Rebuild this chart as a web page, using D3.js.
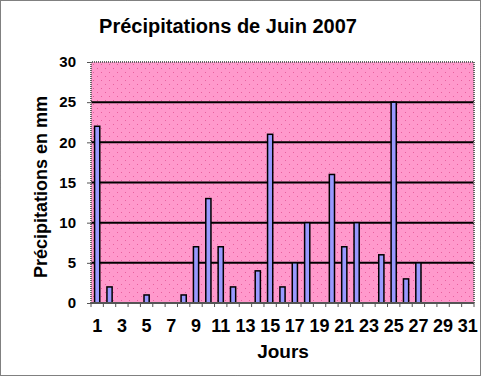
<!DOCTYPE html>
<html>
<head>
<meta charset="utf-8">
<script src="https://cdn.jsdelivr.net/npm/d3@7"></script>
<style>
  body { margin: 0; background: #fff; }
  svg { display: block; font-family: "Liberation Sans", Arial, sans-serif; }
</style>
</head>
<body>
<svg id="chart" width="481" height="376"></svg>
<script>
// jours du mois de juin
const days = d3.range(1, 32);
// précipitations en mm (0 = pas de pluie)
const rain = [22, 2, 0, 0, 1, 0, 0, 1, 7, 13, 7, 2, 0, 4, 21, 2, 5, 10, 0, 16, 7, 10, 0, 6, 25, 3, 5, 0, 0, 0, 0];
const yTicks = [0, 5, 10, 15, 20, 25, 30];
const xLabels = days.filter(d => d % 2 === 1);

const W = 481, H = 376;
const margin = {top: 62, right: 7, bottom: 73, left: 91};
const svg = d3.select("#chart");

// fond pointillé de la zone de tracé
const defs = svg.append("defs");
const pat = defs.append("pattern").attr("id", "dots")
    .attr("patternUnits", "userSpaceOnUse")
    .attr("width", 8).attr("height", 8)
    .attr("x", margin.left).attr("y", margin.top);
pat.append("rect").attr("width", 8).attr("height", 8).attr("fill", "#FF99CC");
pat.append("rect").attr("x", 2).attr("y", 2).attr("width", 1).attr("height", 1).attr("fill", "#E8609E");
pat.append("rect").attr("x", 6).attr("y", 6).attr("width", 1).attr("height", 1).attr("fill", "#E8609E");

// cadre extérieur
svg.append("rect").attr("x", 0.5).attr("y", 0.5)
    .attr("width", W - 1).attr("height", H - 1)
    .attr("fill", "#fff").attr("stroke", "#000")
    .attr("stroke-dasharray", "1,1");

const x = d3.scaleBand().domain(days)
    .range([margin.left, W - margin.right])
    .paddingInner(0.5).paddingOuter(0.25);
const y = d3.scaleLinear().domain([0, 30])
    .range([H - margin.bottom, margin.top]);

const g = svg.append("g");

g.append("rect")
    .attr("x", margin.left).attr("y", margin.top)
    .attr("width", W - margin.right - margin.left)
    .attr("height", H - margin.bottom - margin.top)
    .attr("fill", "url(#dots)");

// lignes de quadrillage
g.selectAll("line.grid").data(yTicks.filter(t => t > 0 && t < 30)).join("line")
    .attr("class", "grid")
    .attr("x1", margin.left).attr("x2", W - margin.right)
    .attr("y1", d => y(d)).attr("y2", d => y(d))
    .attr("stroke", "#000").attr("stroke-width", 2);

// bordure de la zone de tracé
g.append("path")
    .attr("d", `M${margin.left},${H - margin.bottom}V${margin.top}H${W - margin.right}V${H - margin.bottom}`)
    .attr("fill", "none").attr("stroke", "#666").attr("stroke-width", 2)
    .attr("stroke-dasharray", "1,1");

// barres
g.selectAll("rect.bar").data(days.filter((d, i) => rain[i] > 0)).join("rect")
    .attr("class", "bar")
    .attr("x", d => x(d) + 0.5)
    .attr("y", d => y(rain[d - 1]))
    .attr("width", x.bandwidth() - 1)
    .attr("height", d => y(0) - y(rain[d - 1]))
    .attr("fill", "#9999FF").attr("stroke", "#000").attr("stroke-width", 1.5);

// axe Y
const yAxis = d3.axisLeft(y).tickValues(yTicks).tickSize(4).tickPadding(11);
svg.append("g").attr("transform", `translate(${margin.left},0)`)
    .call(yAxis)
    .call(a => a.select(".domain").remove())
    .call(a => a.selectAll("line").attr("stroke", "#555"))
    .call(a => a.selectAll("text")
        .attr("font-size", 15).attr("font-weight", "bold")
        .attr("font-family", "Liberation Sans, Arial, sans-serif")
        .attr("fill", "#000"));

// axe X : graduations entre les catégories
const step = x.step();
const bounds = d3.range(0, days.length + 1).map(i => margin.left + i * step);
const xa = svg.append("g");
xa.append("line")
    .attr("x1", margin.left).attr("x2", W - margin.right)
    .attr("y1", y(0)).attr("y2", y(0))
    .attr("stroke", "#555").attr("stroke-width", 2);
xa.selectAll("line.tick").data(bounds).join("line")
    .attr("class", "tick")
    .attr("x1", d => d).attr("x2", d => d)
    .attr("y1", y(0)).attr("y2", y(0) + 4)
    .attr("stroke", "#555");
xa.selectAll("text").data(xLabels).join("text")
    .attr("x", d => x(d) + x.bandwidth() / 2)
    .attr("y", 332)
    .attr("text-anchor", "middle")
    .attr("font-size", 18).attr("font-weight", "bold")
    .text(d => d);

// titres
svg.append("text").attr("x", 228).attr("y", 33)
    .attr("text-anchor", "middle")
    .attr("font-size", 20).attr("font-weight", "bold")
    .text("Précipitations de Juin 2007");

svg.append("text").attr("x", 283).attr("y", 358)
    .attr("text-anchor", "middle")
    .attr("font-size", 19).attr("font-weight", "bold")
    .text("Jours");

svg.append("text")
    .attr("transform", "translate(47,187) rotate(-90)")
    .attr("text-anchor", "middle")
    .attr("font-size", 18).attr("font-weight", "bold")
    .text("Précipitations en mm");
</script>
</body>
</html>
